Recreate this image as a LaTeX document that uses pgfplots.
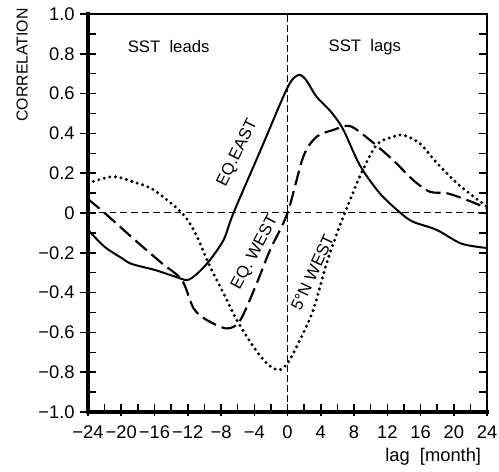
\documentclass[border=0pt]{standalone}
\usepackage{pgfplots}
\pgfplotsset{compat=1.18}
\usepackage{fontspec}
\setmainfont{Liberation Sans}
\begin{document}
\begin{tikzpicture}
\begin{axis}[
 at={(0,0)}, anchor=south west,
 scale only axis, width=239.4pt, height=238.8pt,
 xmin=-24, xmax=24, ymin=-1, ymax=1,
 axis line style={line width=0.9pt},
 xtick={-24,-20,-16,-12,-8,-4,0,4,8,12,16,20,24},
 xticklabels={−24,−20,−16,−12,−8,−4,0,4,8,12,16,20,24},
 minor xtick={-22,-18,-14,-10,-6,-2,2,6,10,14,18,22},
 ytick={-1,-0.8,-0.6,-0.4,-0.2,0,0.2,0.4,0.6,0.8,1},
 yticklabels={−1.0,−0.8,−0.6,−0.4,−0.2,0,0.2,0.4,0.6,0.8,1.0},
 minor ytick={-0.9,-0.7,-0.5,-0.3,-0.1,0.1,0.3,0.5,0.7,0.9},
 tick align=inside,
 xtick pos=bottom,
 major tick length=5pt, minor tick length=5pt,
 tick style={line width=0.9pt, black},
 ticklabel style={font=\fontsize{11}{13}\selectfont},
 xticklabel style={yshift=-4.5pt},
 yticklabel style={xshift=-4.5pt},
 extra y ticks={-1,-0.8,-0.6,-0.4,-0.2,0,0.2,0.4,0.6,0.8,1},
 extra y tick labels={},
 extra y tick style={tick align=outside, ytick pos=left, major tick length=5pt},
 extra x ticks={-24,-20,-16,-12,-8,-4,0,4,8,12,16,20,24},
 extra x tick labels={},
 extra x tick style={tick align=outside, xtick pos=bottom, major tick length=2.5pt},
 ylabel={CORRELATION},
 ylabel style={at={(axis description cs:-0.165,0.872)}, anchor=center, font=\fontsize{9.5}{11}\selectfont},
 xlabel={lag\ \ [month]},
 xlabel style={at={(axis description cs:1,-0.113)}, anchor=east, font=\fontsize{11}{13}\selectfont},
 clip mode=individual,
]
\addplot[black, line width=0.6pt, dash pattern=on 4pt off 2.5pt] coordinates {(-24,0) (24,0)};
\addplot[black, line width=0.6pt, dash pattern=on 4pt off 2pt] coordinates {(0,-1) (0,1)};
% EQ.EAST
\addplot[black, line width=1.2pt, smooth, tension=0.5] coordinates {
(-24,-0.085) (-22,-0.17) (-20,-0.225) (-18.75,-0.256) (-15.9,-0.287) (-13.5,-0.32) (-12.1,-0.337) (-11,-0.31) (-9.5,-0.245) (-7.7,-0.136) (-6.5,0) (-3.3,0.31) (0,0.63) (1.3,0.693) (2.2,0.67) (3.5,0.584) (5.2,0.51) (6.7,0.42) (8.7,0.24) (11.1,0.099) (13.6,0) (15.1,-0.044) (17.95,-0.085) (20.8,-0.152) (23.2,-0.172) (24,-0.175)};
% EQ.WEST
\addplot[black, line width=1.3pt, dash pattern=on 9pt off 3.6pt, smooth, tension=0.5] coordinates {
(-24,0.07) (-22,0) (-18.35,-0.136) (-15.1,-0.253) (-12.7,-0.337) (-11.3,-0.479) (-9.7,-0.538) (-7.3,-0.58) (-5.7,-0.54) (-3.7,-0.353) (-2.1,-0.186) (0,0) (1.9,0.283) (3.5,0.383) (5.5,0.417) (7.5,0.437) (9.9,0.367) (12.7,0.266) (15.1,0.166) (17.1,0.107) (19.2,0.099) (21.6,0.065) (24,0.024)};
% 5N WEST
\addplot[black, line width=2pt, dash pattern=on 0pt off 3.4pt, line cap=round, smooth, tension=0.5] coordinates {
(-24,0.15) (-21,0.183) (-18.6,0.157) (-16.1,0.116) (-12.7,0) (-11.1,-0.10) (-9.5,-0.253) (-7.5,-0.42) (-6.1,-0.538) (-4.1,-0.672) (-2.5,-0.755) (-1.1,-0.789) (0,-0.755) (1.5,-0.638) (3.1,-0.487) (4.7,-0.253) (6.1,-0.085) (6.9,0) (8.7,0.183) (10.7,0.342) (12.7,0.383) (13.9,0.392) (15.9,0.35) (18,0.25) (20.4,0.149) (22.4,0.082) (24,0.032)};
\node[font=\fontsize{10}{12}\selectfont] at (axis cs:-14.3,0.834) {SST\ \ leads};
\node[font=\fontsize{10}{12}\selectfont] at (axis cs:9.3,0.834) {SST\ \ lags};
\node[font=\fontsize{10}{12}\selectfont, rotate=64, inner sep=0pt] at (axis cs:-6.0,0.30) {EQ.EAST};
\node[font=\fontsize{10}{12}\selectfont, rotate=62, inner sep=0pt] at (axis cs:-3.9,-0.20) {EQ. WEST};
\node[font=\fontsize{10}{12}\selectfont, rotate=65, inner sep=0pt] at (axis cs:3.0,-0.30) {5°N WEST};
\draw[line width=2.4pt, line cap=rect] (rel axis cs:0,1) -- (rel axis cs:0,0) -- (rel axis cs:1,0);
\end{axis}
\pgfresetboundingbox
\path[use as bounding box] (-52.8pt,-36pt) rectangle (246.6pt,247.2pt);
\end{tikzpicture}
\end{document}
